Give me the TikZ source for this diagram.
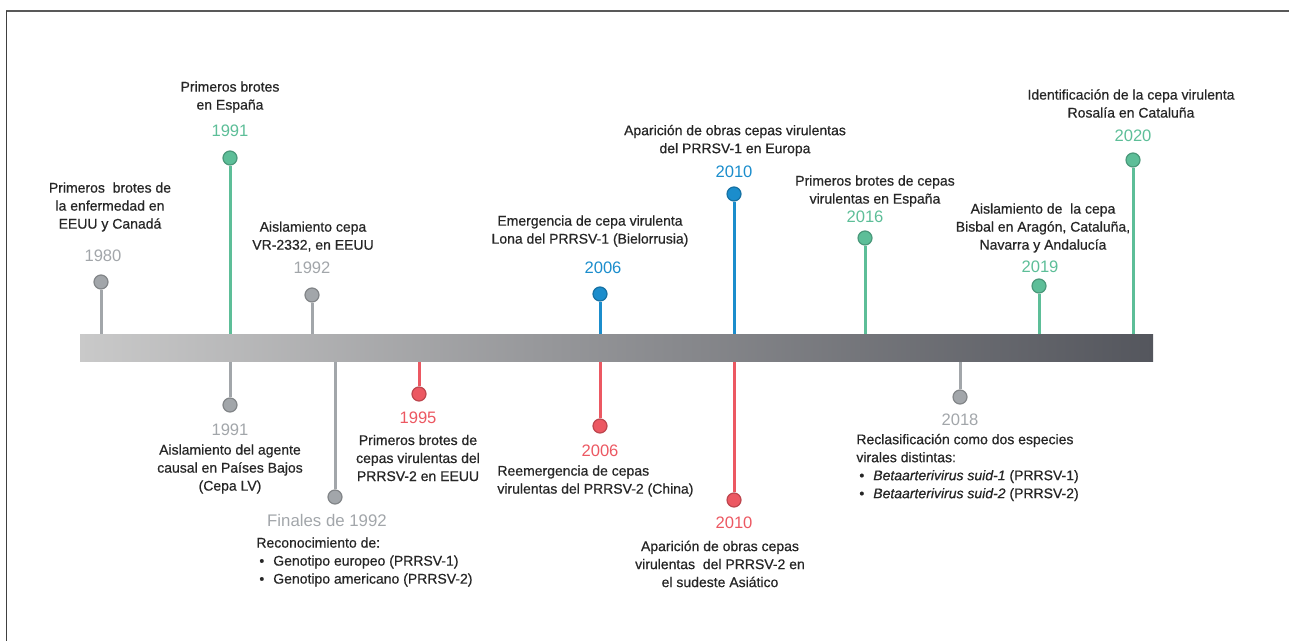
\documentclass[tikz,border=0pt]{standalone}
\usepackage{fontspec}
\setmainfont{Liberation Sans}
\usetikzlibrary{calc}
\definecolor{tlgreen}{HTML}{5DBE98}
\definecolor{tlblue}{HTML}{1B8DCC}
\definecolor{tlred}{HTML}{EC5862}
\definecolor{tlgray}{HTML}{A2A6AA}
\definecolor{tltext}{HTML}{262626}
\definecolor{barleft}{HTML}{C9C9C9}
\definecolor{barmid}{HTML}{A0A9AE}
\definecolor{barright}{HTML}{54565D}
\newcommand{\tlitem}{\hspace{1.5pt}\textbullet\hspace{4.5pt}}

\begin{document}
\begin{tikzpicture}[x=0.5pt, y=-0.5pt,
  dot/.style={circle, fill=#1, draw=#1!80!black, line width=0.6pt, minimum size=7pt, inner sep=0pt},
  stem/.style={draw=#1, line width=1.5pt},
  year/.style={text=#1, font=\fontsize{8.3}{10}\selectfont, inner sep=0pt},
  desc/.style={text=tltext, font=\fontsize{7}{9}\selectfont\addfontfeature{FakeBold=0.6}, align=center, inner sep=0pt},
  bar/.style={rectangle, inner sep=0pt, minimum width=536.5pt, minimum height=13.5pt,
    left color=barleft, middle color=barmid, right color=barright}]
\useasboundingbox (0,0) rectangle (1289,641);

% frame
\draw[black!65, line width=1pt] (6,11.5) -- (1289,11.5);
\draw[black!75, line width=0.75pt] (6.5,11.5) -- (6.5,641);

% dots above the bar
\node[dot=tlgray]  (a1980) at (101,282) {};
\node[dot=tlgreen] (a1991) at (230,158) {};
\node[dot=tlgray]  (a1992) at (312,295) {};
\node[dot=tlblue]  (a2006) at (600,294) {};
\node[dot=tlblue]  (a2010) at (734,194) {};
\node[dot=tlgreen] (a2016) at (865,238) {};
\node[dot=tlgreen] (a2019) at (1039,286) {};
\node[dot=tlgreen] (a2020) at (1133,160) {};

% dots below the bar
\node[dot=tlgray] (b1991) at (230,405) {};
\node[dot=tlgray] (b1992) at (335,497) {};
\node[dot=tlred]  (b1995) at (419,394) {};
\node[dot=tlred]  (b2006) at (600,426) {};
\node[dot=tlred]  (b2010) at (734,500) {};
\node[dot=tlgray] (b2018) at (960,397) {};

% bar (stems first, so the bar covers their ends)
\path (616.5,348.5) coordinate (barc);
\draw[stem=tlgray]  (a1980) -- (a1980 |- barc);
\draw[stem=tlgreen] (a1991) -- (a1991 |- barc);
\draw[stem=tlgray]  (a1992) -- (a1992 |- barc);
\draw[stem=tlblue]  (a2006) -- (a2006 |- barc);
\draw[stem=tlblue]  (a2010) -- (a2010 |- barc);
\draw[stem=tlgreen] (a2016) -- (a2016 |- barc);
\draw[stem=tlgreen] (a2019) -- (a2019 |- barc);
\draw[stem=tlgreen] (a2020) -- (a2020 |- barc);
\draw[stem=tlgray]  (b1991) -- (b1991 |- barc);
\draw[stem=tlgray]  (b1992) -- (b1992 |- barc);
\draw[stem=tlred]   (b1995) -- (b1995 |- barc);
\draw[stem=tlred]   (b2006) -- (b2006 |- barc);
\draw[stem=tlred]   (b2010) -- (b2010 |- barc);
\draw[stem=tlgray]  (b2018) -- (b2018 |- barc);
\node[bar] (bar) at (barc) {};

% years
\node[year=tlgray]  (ya1980) at (103,256) {1980};
\node[year=tlgreen] (ya1991) at (230,131) {1991};
\node[year=tlgray]  (ya1992) at (312,268) {1992};
\node[year=tlblue]  (ya2006) at (603,268) {2006};
\node[year=tlblue]  (ya2010) at (734,172) {2010};
\node[year=tlgreen] (ya2016) at (865,217) {2016};
\node[year=tlgreen] (ya2019) at (1040,267) {2019};
\node[year=tlgreen] (ya2020) at (1133,136) {2020};
\node[year=tlgray]  (yb1991) at (230,430) {1991};
\node[year=tlgray, font=\fontsize{8.4}{10}\selectfont] (yb1992) at (327,520) {Finales de 1992};
\node[year=tlred]   (yb1995) at (418,418) {1995};
\node[year=tlred]   (yb2006) at (600,451) {2006};
\node[year=tlred]   (yb2010) at (734,523) {2010};
\node[year=tlgray]  (yb2018) at (960,420) {2018};

% texts above
\node[desc] (da1980) at (110,207) {Primeros \ brotes de\\la enfermedad en\\EEUU y Canadá};
\node[desc] (da1991) at (230,97) {Primeros brotes\\en España};
\node[desc] (da1992) at (313,236.5) {Aislamiento cepa\\VR-2332, en EEUU};
\node[desc] (da2006) at (590,231) {Emergencia de cepa virulenta\\Lona del PRRSV-1 (Bielorrusia)};
\node[desc] (da2010) at (735,140.5) {Aparición de obras cepas virulentas\\del PRRSV-1 en Europa};
\node[desc] (da2016) at (875,191) {Primeros brotes de cepas\\virulentas en España};
\node[desc] (da2019) at (1043,228) {Aislamiento de \ la cepa\\Bisbal en Aragón, Cataluña,\\Navarra y Andalucía};
\node[desc] (da2020) at (1131,103.5) {Identificación de la cepa virulenta\\Rosalía en Cataluña};

% texts below
\node[desc] (db1991) at (230,469) {Aislamiento del agente\\causal en Países Bajos\\(Cepa LV)};
\node[desc, anchor=west, align=left] (db1992) at (256,562) {Reconocimiento de:\\\tlitem Genotipo europeo (PRRSV-1)\\\tlitem Genotipo americano (PRRSV-2)};
\node[desc] (db1995) at (418,458) {Primeros brotes de\\cepas virulentas del\\PRRSV-2 en EEUU};
\node[desc, anchor=west, align=left] (db2006) at (497,481) {Reemergencia de cepas\\virulentas del PRRSV-2 (China)};
\node[desc] (db2010) at (720,564) {Aparición de obras cepas\\virulentas \ del PRRSV-2 en\\el sudeste Asiático};
\node[desc, anchor=west, align=left] (db2018) at (856,467.5) {Reclasificación como dos especies\\virales distintas:\\\tlitem\textit{Betaarterivirus suid-1} (PRRSV-1)\\\tlitem\textit{Betaarterivirus suid-2} (PRRSV-2)};
\end{tikzpicture}
\end{document}
